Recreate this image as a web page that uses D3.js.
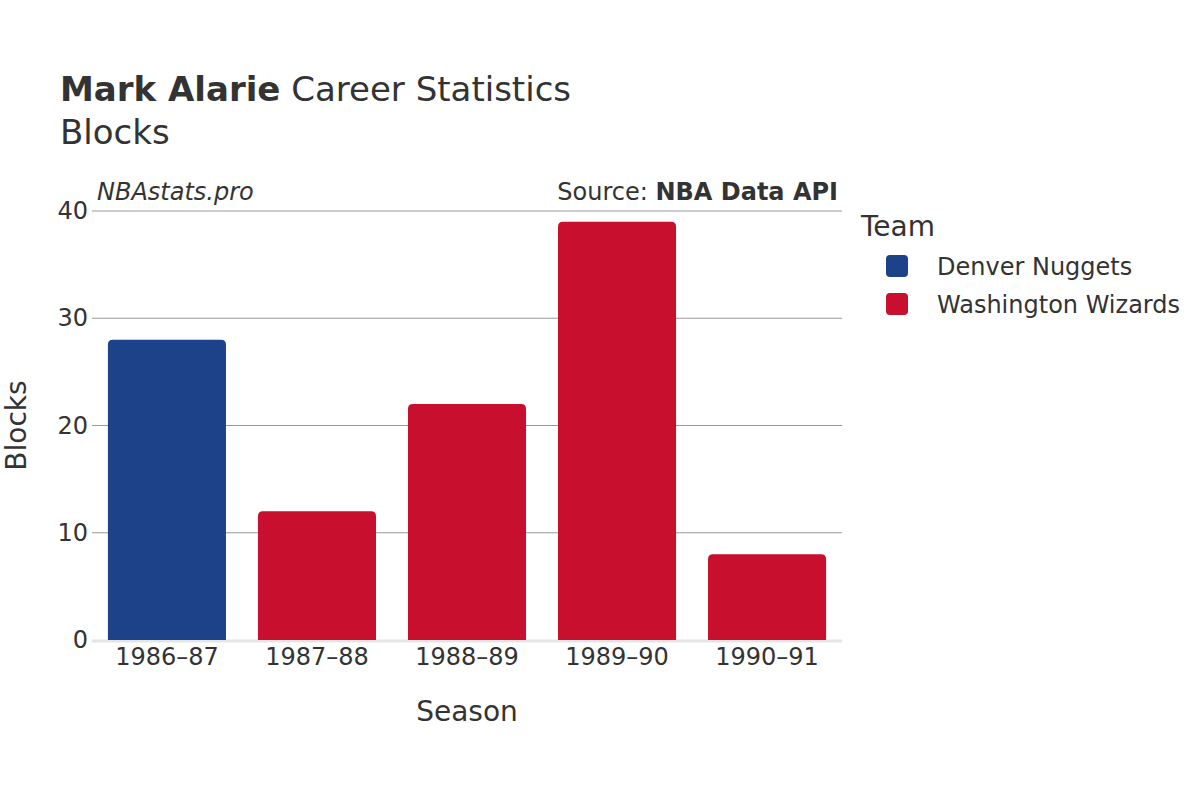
<!DOCTYPE html>
<html>
<head>
<meta charset="utf-8">
<script src="https://cdn.jsdelivr.net/npm/d3@7"></script>
<style>
  body { margin: 0; background: #fff; }
  svg { font-family: "DejaVu Sans", sans-serif; }
</style>
</head>
<body>
<div id="vizcont"></div>
<script>
// chart data
var seasons = ["1986–87", "1987–88", "1988–89", "1989–90", "1990–91"];
var teams = ["Denver Nuggets", "Washington Wizards", "Washington Wizards", "Washington Wizards", "Washington Wizards"];
var blocks = [28, 12, 22, 39, 8];
var legendTeams = ["Denver Nuggets", "Washington Wizards"];
var teamColors = ["#1d428a", "#c8102e"];
var yTicks = [0, 10, 20, 30, 40];

var width = 1200, height = 800;
var margin = {top: 211, right: 358, bottom: 160, left: 92};
var innerW = width - margin.left - margin.right;
var innerH = height - margin.top - margin.bottom;

var svg = d3.select("#vizcont")
    .append("svg")
    .attr("width", width)
    .attr("height", height);

var x = d3.scaleBand()
    .domain(seasons)
    .range([0, innerW])
    .paddingInner(0.213)
    .paddingOuter(0.106);

var y = d3.scaleLinear()
    .domain([0, 40])
    .range([innerH, 0]);

var z = d3.scaleOrdinal()
    .domain(legendTeams)
    .range(teamColors);

var g = svg.append("g")
    .attr("transform", "translate(" + margin.left + "," + margin.top + ")");

// gridlines
g.append("g")
    .selectAll("line")
    .data(yTicks.filter(function(d) { return d > 0; }))
    .enter()
    .append("line")
    .attr("x1", 0)
    .attr("x2", innerW)
    .attr("y1", function(d) { return y(d); })
    .attr("y2", function(d) { return y(d); })
    .attr("stroke", "#999")
    .attr("stroke-width", 1);

// zero line
g.append("line")
    .attr("x1", 0)
    .attr("x2", innerW)
    .attr("y1", y(0) + 1)
    .attr("y2", y(0) + 1)
    .attr("stroke", "#e5e5e5")
    .attr("stroke-width", 3);

// bars with rounded top corners
var r = 5;
function barPath(d, i) {
    var x0 = x(seasons[i]), w = x.bandwidth();
    var yt = y(d), yb = y(0);
    return "M" + x0 + "," + yb +
        "V" + (yt + r) +
        "Q" + x0 + "," + yt + " " + (x0 + r) + "," + yt +
        "H" + (x0 + w - r) +
        "Q" + (x0 + w) + "," + yt + " " + (x0 + w) + "," + (yt + r) +
        "V" + yb + "Z";
}

g.append("g")
    .selectAll("path")
    .data(blocks)
    .enter()
    .append("path")
    .attr("d", barPath)
    .attr("fill", function(d, i) { return z(teams[i]); });

// y axis
var yAxis = g.append("g")
    .call(d3.axisLeft(y).tickValues(yTicks).tickSize(0).tickPadding(4));
yAxis.select(".domain").remove();
yAxis.selectAll("text")
    .attr("fill", "#333")
    .style("font-size", "24px")
    .style("font-family", "DejaVu Sans");

// x axis
var xAxis = g.append("g")
    .attr("transform", "translate(0," + innerH + ")")
    .call(d3.axisBottom(x).tickSize(0).tickPadding(8));
xAxis.select(".domain").remove();
xAxis.selectAll("text")
    .attr("fill", "#333")
    .style("font-size", "24px")
    .style("font-family", "DejaVu Sans");

// title
var title = svg.append("text")
    .attr("x", 60)
    .attr("y", 101)
    .attr("fill", "#333")
    .style("font-size", "34px");
title.append("tspan").attr("font-weight", "bold").text("Mark Alarie");
title.append("tspan").text(" Career Statistics");

svg.append("text")
    .attr("x", 60)
    .attr("y", 144)
    .attr("fill", "#333")
    .style("font-size", "34px")
    .text("Blocks");

// watermark & source
svg.append("text")
    .attr("x", 97)
    .attr("y", 200)
    .attr("fill", "#333")
    .attr("font-style", "italic")
    .style("font-size", "24px")
    .text("NBAstats.pro");

var src = svg.append("text")
    .attr("x", 838)
    .attr("y", 200)
    .attr("text-anchor", "end")
    .attr("fill", "#333")
    .style("font-size", "24px");
src.append("tspan").text("Source: ");
src.append("tspan").attr("font-weight", "bold").text("NBA Data API");

// axis titles
svg.append("text")
    .attr("x", margin.left + innerW / 2)
    .attr("y", 721)
    .attr("text-anchor", "middle")
    .attr("fill", "#333")
    .style("font-size", "28px")
    .text("Season");

svg.append("text")
    .attr("transform", "translate(26," + (margin.top + innerH / 2) + ") rotate(-90)")
    .attr("text-anchor", "middle")
    .attr("fill", "#333")
    .style("font-size", "28px")
    .text("Blocks");

// legend
svg.append("text")
    .attr("x", 861)
    .attr("y", 236)
    .attr("fill", "#333")
    .style("font-size", "28px")
    .text("Team");

var legend = svg.append("g")
    .selectAll("g")
    .data(legendTeams)
    .enter()
    .append("g")
    .attr("transform", function(d, i) { return "translate(886," + (255 + i * 38) + ")"; });

legend.append("rect")
    .attr("width", 22)
    .attr("height", 22)
    .attr("rx", 4)
    .attr("fill", z);

legend.append("text")
    .attr("x", 51)
    .attr("y", 20)
    .attr("fill", "#333")
    .style("font-size", "24px")
    .text(function(d) { return d; });
</script>
</body>
</html>
